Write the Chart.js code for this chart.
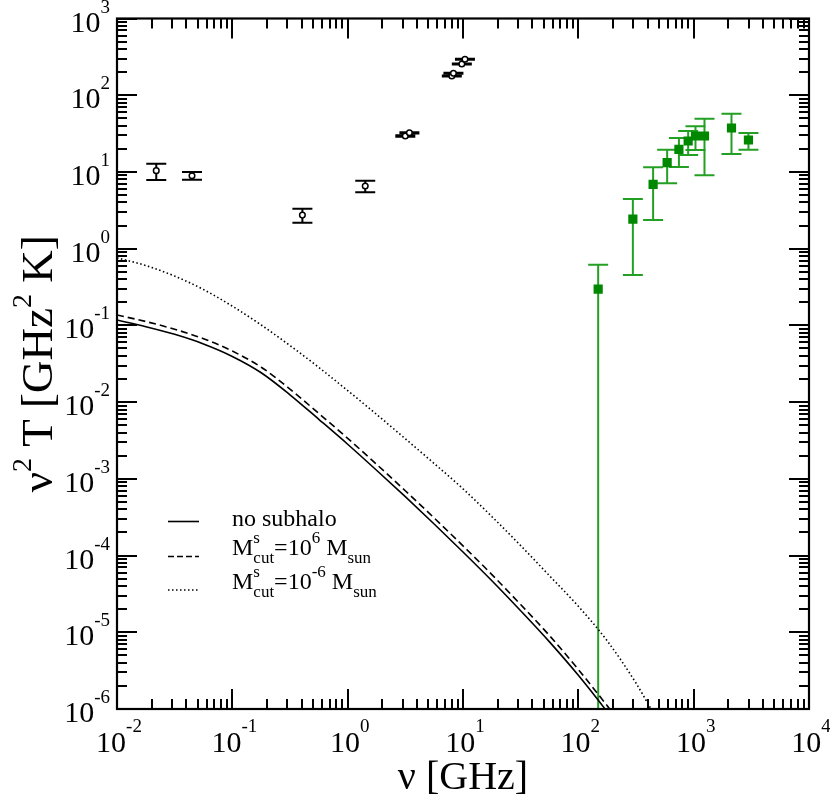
<!DOCTYPE html>
<html>
<head>
<meta charset="utf-8">
<script src="https://cdn.jsdelivr.net/npm/chart.js@4/dist/chart.umd.min.js"></script>
<style>
  html,body{margin:0;padding:0;background:#fff;}
  #wrap{width:830px;height:799px;}
</style>
</head>
<body>
<div id="wrap"><canvas id="cv" width="830" height="799"></canvas></div>
<script>
// ---- model curves: nu [GHz] vs nu^2 T [GHz^2 K] ----
const curveNu   = [0.01, 0.0178, 0.0316, 0.0562, 0.1, 0.178, 0.316, 0.562, 1, 1.78, 3.16, 5.62, 10, 17.8, 31.6, 56.2, 100, 178, 200];
const noSubhalo = [0.1175, 0.0962, 0.0764, 0.0573, 0.0394, 0.02415, 0.01247, 0.00597, 0.002825, 0.001294, 5.85e-4, 2.58e-4, 1.114e-4, 4.7e-5, 1.91e-5, 7.5e-6, 2.75e-6, 9.2e-7, 7.3e-7];
const mcut1e6   = [0.1368, 0.1122, 0.0891, 0.067, 0.0463, 0.0285, 0.01479, 0.00711, 0.003373, 0.001549, 7.0e-4, 3.09e-4, 1.337e-4, 5.65e-5, 2.3e-5, 9.06e-6, 3.27e-6, 1.1e-6, 8.7e-7];
const dotNu     = [0.01, 0.0178, 0.0316, 0.0562, 0.1, 0.178, 0.316, 0.562, 1, 1.78, 3.16, 5.62, 10, 17.8, 31.6, 56.2, 100, 178, 316, 422, 447];
const mcut1em6  = [0.759, 0.603, 0.439, 0.2935, 0.178, 0.1012, 0.0546, 0.02835, 0.01413, 0.00692, 0.00333, 0.001585, 7.41e-4, 3.22e-4, 1.349e-4, 5.46e-5, 2.18e-5, 7.72e-6, 2.18e-6, 1.03e-6, 8.9e-7];

// ---- measurements (black, radio) ----
const radioNu  = [0.0219, 0.0447, 0.405, 1.42, 3.16, 3.43, 8.0, 8.26, 9.77, 10.4];
const radioT   = [10.4, 8.92, 2.74, 6.55, 29.4, 32.4, 178, 193, 255, 294];
const radioHi  = [12.8, 9.97, 3.31, 7.67, 30.0, 33.0, 181, 196, 259, 299];
const radioLo  = [7.84, 7.91, 2.18, 5.42, 28.8, 31.8, 175, 190, 251, 289];

// ---- measurements (green, sub-mm) ----
const dustNu   = [148.6, 297, 445, 589, 745, 896, 1037, 1241, 2128, 2985];
const dustT    = [0.297, 2.43, 6.89, 13.2, 19.7, 25.3, 29.4, 29.4, 37.4, 26.1];
const dustHi   = [0.616, 4.43, 11.5, 19.5, 27.7, 34.1, 39.3, 49.4, 57.4, 32.1];
const dustLo   = [1e-9, 0.453, 2.36, 7.1, 11.6, 16.6, 19.3, 9.03, 17.1, 19.5];

const xExp = [-2, -1, 0, 1, 2, 3, 4];
const yExp = [-6, -5, -4, -3, -2, -1, 0, 1, 2, 3];

const FONT = '"Liberation Serif", "DejaVu Serif", serif';
const pts = (xs, ys) => xs.map((x, i) => ({x: x, y: ys[i]}));

// draw text with super/subscripts: parts = [text, size, dy, advance]
function rich(ctx, parts, x, y, align){
  let w = 0;
  parts.forEach(p => { ctx.font = p[1] + 'px ' + FONT; if(p[3] !== false) w += ctx.measureText(p[0]).width; });
  let cx = align === 'right' ? x - w : align === 'center' ? x - w/2 : x;
  ctx.textAlign = 'left'; ctx.textBaseline = 'alphabetic';
  parts.forEach(p => {
    ctx.font = p[1] + 'px ' + FONT;
    ctx.fillText(p[0], cx, y + p[2]);
    if(p[3] !== false) cx += ctx.measureText(p[0]).width;
  });
}

const decor = {
  id: 'decor',
  beforeDatasetsDraw(chart){
    const {ctx, chartArea: a, scales: {x, y}} = chart;
    ctx.save();
    ctx.beginPath(); ctx.rect(a.left, a.top, a.right - a.left, a.bottom - a.top); ctx.clip();
    const bars = (nu, lo, hi, color) => {
      ctx.strokeStyle = color; ctx.lineWidth = 2;
      nu.forEach((v, i) => {
        const px = x.getPixelForValue(v);
        const y1 = y.getPixelForValue(hi[i]), y0 = Math.min(y.getPixelForValue(lo[i]), a.bottom + 5);
        ctx.beginPath();
        ctx.moveTo(px, y0); ctx.lineTo(px, y1);
        ctx.moveTo(px - 10, y1); ctx.lineTo(px + 10, y1);
        if(y0 < a.bottom){ ctx.moveTo(px - 10, y0); ctx.lineTo(px + 10, y0); }
        ctx.stroke();
      });
    };
    bars(radioNu, radioLo, radioHi, '#000');
    bars(dustNu, dustLo, dustHi, '#23a023');
    ctx.restore();
  },
  afterDraw(chart){
    const {ctx, chartArea: a, scales: {x, y}} = chart;
    ctx.save();
    ctx.fillStyle = '#000'; ctx.strokeStyle = '#000';

    // inward ticks on all four sides
    ctx.lineWidth = 2;
    ctx.beginPath();
    for(let e = -2; e <= 4; e++){
      for(let m = 1; m <= 9; m++){
        const v = m * Math.pow(10, e);
        if(v > 1e4 * 1.0001) break;
        const px = Math.round(x.getPixelForValue(v));
        const L = m === 1 ? 20 : 10;
        ctx.moveTo(px, a.bottom); ctx.lineTo(px, a.bottom - L);
        ctx.moveTo(px, a.top);    ctx.lineTo(px, a.top + L);
      }
    }
    for(let e = -6; e <= 3; e++){
      for(let m = 1; m <= 9; m++){
        const v = m * Math.pow(10, e);
        if(v > 1e3 * 1.0001) break;
        const py = Math.round(y.getPixelForValue(v));
        const L = m === 1 ? 20 : 10;
        ctx.moveTo(a.left, py);  ctx.lineTo(a.left + L, py);
        ctx.moveTo(a.right, py); ctx.lineTo(a.right - L, py);
      }
    }
    ctx.stroke();
    ctx.lineWidth = 2.2;
    ctx.strokeRect(a.left, a.top, a.right - a.left, a.bottom - a.top);

    // tick labels
    xExp.forEach(e => {
      const px = x.getPixelForValue(Math.pow(10, e));
      rich(ctx, [['10', 30, 0], [String(e), 19, -20]], px + 2, a.bottom + 43, 'center');
    });
    yExp.forEach(e => {
      const py = y.getPixelForValue(Math.pow(10, e));
      rich(ctx, [['10', 30, 0], [String(e), 19, -19]], 110, py + 13, 'right');
    });

    // axis titles
    rich(ctx, [['\u03bd [GHz]', 40, 0]], (a.left + a.right) / 2, 789, 'center');
    ctx.save();
    ctx.translate(52, (a.top + a.bottom) / 2);
    ctx.rotate(-Math.PI / 2);
    rich(ctx, [['\u03bd', 45, 0], ['2', 28, -21], [' T [GHz', 45, 0], ['2', 28, -21], [' K]', 45, 0]], 0, 0, 'center');
    ctx.restore();

    // legend
    const lx0 = 168, lx1 = 199, tx = 232;
    const row = (yl, dash) => {
      ctx.save(); ctx.lineWidth = 1.6; ctx.setLineDash(dash);
      ctx.beginPath(); ctx.moveTo(lx0, yl); ctx.lineTo(lx1, yl); ctx.stroke(); ctx.restore();
    };
    row(521.5, []);
    rich(ctx, [['no subhalo', 24, 0]], tx, 526, 'left');
    row(556.5, [6, 3]);
    rich(ctx, [['M', 24, 0], ['s', 17, -12, false], ['cut', 17, 8], ['=10', 24, 0], ['6', 17, -12], [' M', 24, 0], ['sun', 17, 8]], tx, 555, 'left');
    row(590, [1.5, 2.5]);
    rich(ctx, [['M', 24, 0], ['s', 17, -12, false], ['cut', 17, 8], ['=10', 24, 0], ['-6', 17, -12], [' M', 24, 0], ['sun', 17, 8]], tx, 589, 'left');
    ctx.restore();
  }
};

const lineDs = (data, dash) => ({
  data: data, showLine: true, pointRadius: 0, borderColor: '#000',
  borderWidth: 1.6, borderDash: dash, fill: false, cubicInterpolationMode: 'monotone'
});

new Chart(document.getElementById('cv'), {
  type: 'scatter',
  data: {
    datasets: [
      lineDs(pts(curveNu, noSubhalo), []),
      lineDs(pts(curveNu, mcut1e6), [7, 4]),
      lineDs(pts(dotNu, mcut1em6), [1.5, 2.5]),
      { data: pts(radioNu, radioT), pointStyle: 'circle', pointRadius: 2.8,
        pointBorderColor: '#000', pointBackgroundColor: '#fff', pointBorderWidth: 1.5 },
      { data: pts(dustNu, dustT), pointStyle: 'rect', pointRadius: 6.5,
        pointBorderColor: '#008800', pointBackgroundColor: '#008800', pointBorderWidth: 0 }
    ]
  },
  options: {
    responsive: false, animation: false,
    layout: { padding: { left: 117, top: 18.5, right: 21, bottom: 90 } },
    plugins: { legend: { display: false }, tooltip: { enabled: false } },
    scales: {
      x: { type: 'logarithmic', min: 0.01, max: 1e4, display: false },
      y: { type: 'logarithmic', min: 1e-6, max: 1e3, display: false }
    }
  },
  plugins: [decor]
});
</script>
</body>
</html>
